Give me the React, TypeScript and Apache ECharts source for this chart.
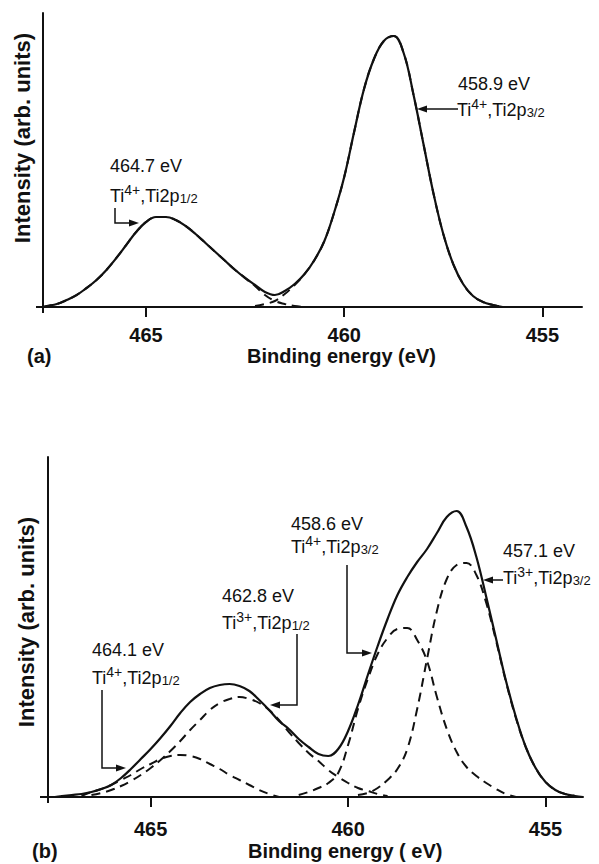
import React, { useEffect, useRef } from "react";
import * as echarts from "echarts";

// ---------- data ----------
const TICKS = [465, 460, 455];

// (a) envelope
const TOP_ENV_E = [467.6, 467.5, 467.25, 467.0, 466.75, 466.5, 466.25, 466.0, 465.75, 465.5, 465.25, 465.0, 464.75, 464.5, 464.25, 464.0, 463.75, 463.5, 463.25, 463.0, 462.75, 462.5, 462.25, 462.0, 461.75, 461.5, 461.25, 461.0, 460.75, 460.5, 460.25, 460.0, 459.75, 459.5, 459.25, 459.0, 458.75, 458.5, 458.25, 458.0, 457.75, 457.5, 457.25, 457.0, 456.75, 456.5, 456.25, 456.0];
const TOP_ENV_I = [0, 1, 3, 7, 12, 19, 27, 37, 49, 62, 75, 85, 90, 90, 87, 81, 73, 64, 55, 46, 37, 29, 22, 15, 12, 16, 23, 33, 47, 66, 95, 130, 175, 218, 248, 266, 271, 254, 212, 163, 114, 73, 43, 23, 11, 5, 2, 0];
// (a) Ti4+ 2p1/2 component
const TOP_P12_E = [467.6, 467.5, 467.25, 467.0, 466.75, 466.5, 466.25, 466.0, 465.75, 465.5, 465.25, 465.0, 464.75, 464.5, 464.25, 464.0, 463.75, 463.5, 463.25, 463.0, 462.75, 462.5, 462.25, 462.0, 461.75, 461.5, 461.25, 461.0];
const TOP_P12_I = [0, 1, 3, 7, 12, 19, 27, 37, 49, 62, 75, 85, 90, 90, 87, 81, 73, 64, 55, 46, 37, 29, 21, 12, 6, 3, 1, 0];
// (a) Ti4+ 2p3/2 component
const TOP_P32_E = [462.25, 462.0, 461.75, 461.5, 461.25, 461.0, 460.75, 460.5, 460.25, 460.0, 459.75, 459.5, 459.25, 459.0, 458.75, 458.5, 458.25, 458.0, 457.75, 457.5, 457.25, 457.0, 456.75, 456.5, 456.25, 456.0];
const TOP_P32_I = [1, 3, 6, 13, 22, 33, 47, 66, 95, 130, 175, 218, 248, 266, 271, 254, 212, 163, 114, 73, 43, 23, 11, 5, 2, 0];

// (b) envelope
const BOT_ENV_E = [467.6, 467.5, 467.25, 467.0, 466.75, 466.5, 466.25, 466.0, 465.75, 465.5, 465.25, 465.0, 464.75, 464.5, 464.25, 464.0, 463.75, 463.5, 463.25, 463.0, 462.75, 462.5, 462.25, 462.0, 461.75, 461.5, 461.25, 461.0, 460.75, 460.5, 460.25, 460.0, 459.75, 459.5, 459.25, 459.0, 458.75, 458.5, 458.25, 458.0, 457.75, 457.5, 457.25, 457.0, 456.75, 456.5, 456.25, 456.0, 455.75, 455.5, 455.25, 455.0, 454.75, 454.5, 454.25, 454.05];
const BOT_ENV_I = [0, 0, 1, 2, 3, 5, 8, 12, 19, 28, 38, 48, 59, 71, 84, 95, 103, 109, 112, 113, 111, 106, 97, 87, 76, 68, 58, 50, 43, 41, 48, 66, 92, 122, 151, 178, 202, 220, 235, 248, 264, 280, 286, 270, 240, 200, 158, 116, 80, 50, 29, 15, 7, 3, 1, 0];
// (b) Ti4+ 2p1/2
const BOT_C1_E = [466.75, 466.5, 466.25, 466.0, 465.75, 465.5, 465.25, 465.0, 464.75, 464.5, 464.25, 464.0, 463.75, 463.5, 463.25, 463.0, 462.75, 462.5, 462.25, 462.0, 461.75];
const BOT_C1_I = [1, 5, 8, 12, 17, 22, 28, 33, 38, 41, 42, 41, 38, 33, 28, 22, 17, 12, 7, 3, 0];
// (b) Ti3+ 2p1/2
const BOT_C2_E = [466.5, 466.25, 466.0, 465.75, 465.5, 465.25, 465.0, 464.75, 464.5, 464.25, 464.0, 463.75, 463.5, 463.25, 463.0, 462.75, 462.5, 462.25, 462.0, 461.75, 461.5, 461.25, 461.0, 460.75, 460.5, 460.25, 460.0, 459.75, 459.5, 459.25, 459.0];
const BOT_C2_I = [2, 4, 7, 11, 16, 22, 29, 37, 46, 56, 67, 77, 87, 94, 98, 100, 98, 94, 87, 77, 65, 54, 44, 36, 27, 20, 14, 9, 6, 3, 1];
// (b) Ti4+ 2p3/2
const BOT_C3_E = [461.25, 461.0, 460.75, 460.5, 460.25, 460.0, 459.75, 459.5, 459.25, 459.0, 458.75, 458.5, 458.25, 458.0, 457.75, 457.5, 457.25, 457.0, 456.75, 456.5, 456.25, 456.0, 455.75];
const BOT_C3_I = [2, 5, 9, 14, 24, 52, 88, 118, 143, 159, 168, 169, 157, 136, 100, 68, 45, 30, 21, 14, 8, 3, 0];
// (b) Ti3+ 2p3/2
const BOT_C4_E = [459.75, 459.5, 459.25, 459.0, 458.75, 458.5, 458.25, 458.0, 457.75, 457.5, 457.25, 457.0, 456.75, 456.5, 456.25, 456.0, 455.75, 455.5, 455.25, 455.0, 454.75, 454.5, 454.25];
const BOT_C4_I = [2, 4, 9, 17, 28, 48, 88, 138, 186, 218, 232, 234, 222, 194, 156, 115, 79, 50, 29, 15, 7, 3, 1];

const TOP_LABEL = "(a)";
const BOT_LABEL = "(b)";
const X_TITLE_TOP = "Binding energy (eV)";
const X_TITLE_BOT = "Binding energy ( eV)";
const Y_TITLE = "Intensity (arb. units)";

// ---------- styling ----------
const FONT = "'Liberation Sans', Arial, sans-serif";
const INK = "#111";
const ANN = 18;

const zip = (e: number[], v: number[]) => e.map((x, i) => [x, v[i]]);

const xAxis = (gridIndex: number, min: number, margin: number) => ({
  type: "value",
  gridIndex,
  min,
  max: 467.6,
  inverse: true,
  axisLine: { show: true, onZero: false, lineStyle: { color: INK, width: 2 } },
  axisTick: { show: true, customValues: TICKS, length: 10, lineStyle: { color: INK, width: 2 } },
  axisLabel: { show: true, customValues: TICKS, margin, color: INK, fontSize: 20, fontWeight: "bold", fontFamily: FONT },
  splitLine: { show: false },
});
const yAxis = (gridIndex: number, max: number) => ({
  type: "value",
  gridIndex,
  min: 0,
  max,
  axisLine: { show: true, onZero: false, lineStyle: { color: INK, width: 2 } },
  axisTick: { show: false },
  axisLabel: { show: false },
  splitLine: { show: false },
});

const solid = (xi: number, e: number[], v: number[]) => ({
  type: "line",
  xAxisIndex: xi,
  yAxisIndex: xi,
  data: zip(e, v),
  showSymbol: false,
  smooth: 0.4,
  lineStyle: { color: INK, width: 2.2 },
  z: 3,
});
const dashed = (xi: number, e: number[], v: number[]) => ({
  type: "line",
  xAxisIndex: xi,
  yAxisIndex: xi,
  data: zip(e, v),
  showSymbol: false,
  smooth: 0.4,
  lineStyle: { color: INK, width: 2, type: [9, 6] },
  z: 2,
});

const rich = {
  n: { fontSize: ANN, fontFamily: FONT, fill: INK, lineHeight: 22, verticalAlign: "bottom" },
  sup: { fontSize: 14, fontFamily: FONT, fill: INK, lineHeight: 22, verticalAlign: "top" },
  sm: { fontSize: 13, fontFamily: FONT, fill: INK, lineHeight: 22, verticalAlign: "bottom" },
};

const plainText = (x: number, y: number, text: string, size = ANN, weight = "normal") => ({
  type: "text",
  x,
  y,
  silent: true,
  style: { text, fill: INK, fontSize: size, fontWeight: weight, fontFamily: FONT, textAlign: "left", textVerticalAlign: "middle" },
});
const richText = (x: number, y: number, ion: string, level: string) => ({
  type: "text",
  x,
  y,
  silent: true,
  style: {
    text: `{n|Ti}{sup|${ion}}{n|,Ti2p}{sm|${level}}`,
    rich,
    fill: INK,
    fontSize: ANN,
    fontFamily: FONT,
    textAlign: "left",
    textVerticalAlign: "middle",
  },
});
const arrow = (pts: number[][], tip: number[], dir: "left" | "right") => {
  const s = dir === "right" ? -1 : 1;
  return [
    { type: "polyline", silent: true, shape: { points: pts }, style: { stroke: INK, lineWidth: 1.5, fill: "none" } },
    {
      type: "polygon",
      silent: true,
      shape: { points: [tip, [tip[0] + s * 10, tip[1] - 3.5], [tip[0] + s * 10, tip[1] + 3.5]] },
      style: { fill: INK },
    },
  ];
};
const seg = (x1: number, y1: number, x2: number, y2: number) => ({
  type: "line",
  silent: true,
  shape: { x1, y1, x2, y2 },
  style: { stroke: INK, lineWidth: 2 },
});
const yTitle = (x: number, y: number) => ({
  type: "text",
  x,
  y,
  rotation: Math.PI / 2,
  silent: true,
  style: { text: Y_TITLE, fill: INK, fontSize: 22, fontWeight: "bold", fontFamily: FONT, textAlign: "center", textVerticalAlign: "middle" },
});

const option = {
  animation: false,
  backgroundColor: "#fff",
  grid: [
    { left: 43, top: 13, width: 539, height: 294 },
    { left: 48, top: 457, width: 535, height: 340 },
  ],
  xAxis: [xAxis(0, 454, 18), xAxis(1, 454.05, 22)],
  yAxis: [yAxis(0, 294), yAxis(1, 340)],
  series: [
    solid(0, TOP_ENV_E, TOP_ENV_I),
    dashed(0, TOP_P12_E, TOP_P12_I),
    dashed(0, TOP_P32_E, TOP_P32_I),
    solid(1, BOT_ENV_E, BOT_ENV_I),
    dashed(1, BOT_C1_E, BOT_C1_I),
    dashed(1, BOT_C2_E, BOT_C2_I),
    dashed(1, BOT_C3_E, BOT_C3_I),
    dashed(1, BOT_C4_E, BOT_C4_I),
  ],
  graphic: [
    // axis extensions
    seg(36, 307, 43, 307),
    seg(43, 307, 43, 313),
    seg(40, 797, 48, 797),
    seg(48, 797, 48, 803),
    // axis titles
    yTitle(22, 138),
    yTitle(26, 622),
    plainText(27, 356, TOP_LABEL, 20, "bold"),
    plainText(247, 356, X_TITLE_TOP, 20, "bold"),
    plainText(32, 851, BOT_LABEL, 20, "bold"),
    plainText(248, 851, X_TITLE_BOT, 20, "bold"),
    // (a) annotations
    plainText(110, 166, "464.7 eV"),
    richText(110, 194, "4+", "1/2"),
    ...arrow([[115, 208], [115, 223], [130, 223]], [139, 223], "right"),
    plainText(458, 84, "458.9 eV"),
    richText(457, 108, "4+", "3/2"),
    ...arrow([[458, 109], [426, 109]], [417, 109], "left"),
    // (b) annotations
    plainText(92, 650, "464.1 eV"),
    richText(92, 676, "4+", "1/2"),
    ...arrow([[102, 690], [102, 768], [117, 768]], [126, 768], "right"),
    plainText(222, 596, "462.8 eV"),
    richText(222, 621, "3+", "1/2"),
    ...arrow([[297, 634], [297, 705], [279, 705]], [270, 705], "left"),
    plainText(291, 524, "458.6 eV"),
    richText(291, 545, "4+", "3/2"),
    ...arrow([[347, 565], [347, 653], [363, 653]], [372, 653], "right"),
    plainText(503, 551, "457.1 eV"),
    richText(503, 576, "3+", "3/2"),
    ...arrow([[503, 580], [492, 580]], [483, 580], "left"),
  ],
};

export default function App() {
  const ref = useRef<HTMLDivElement>(null);
  useEffect(() => {
    if (!ref.current) return;
    const chart = echarts.init(ref.current, null, { renderer: "svg" });
    chart.setOption(option as any);
    return () => chart.dispose();
  }, []);
  return (
    <div
      ref={ref}
      style={{ position: "fixed", left: 0, top: 0, width: 599, height: 864, background: "#fff" }}
    />
  );
}
